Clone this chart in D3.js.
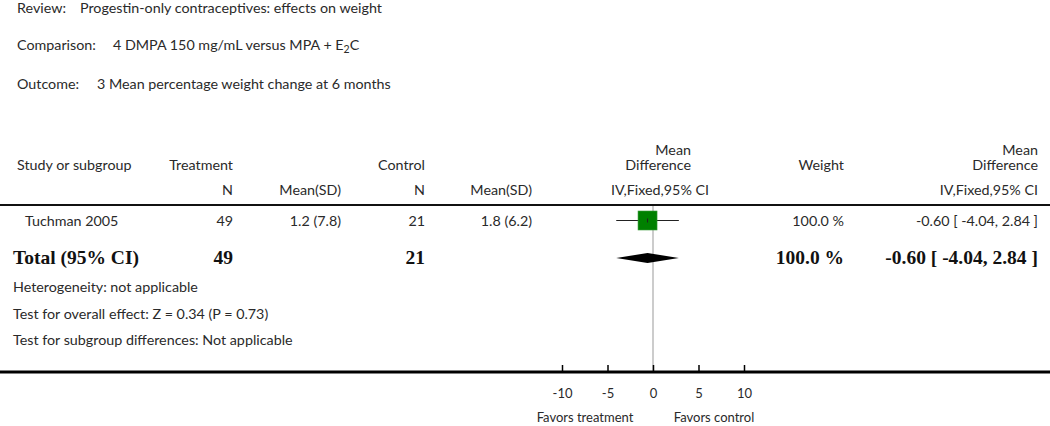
<!DOCTYPE html>
<html><head><meta charset="utf-8">
<script src="https://cdn.jsdelivr.net/npm/d3@7"></script>
<style>
body{margin:0;background:#fff;}
svg{display:block;}
text{font-family:Lato,"Open Sans",sans-serif;fill:#2a2a2a;}
.b{font-family:"Liberation Serif","DejaVu Serif",serif;font-weight:bold;fill:#111;}
</style></head><body>
<svg id="c" width="1050" height="426"></svg>
<script>
// ---- data ----
const reviewTitle = "Progestin-only contraceptives: effects on weight";
const comparisonTitle = "4 DMPA 150 mg/mL versus MPA + E";
const outcomeTitle = "3 Mean percentage weight change at 6 months";
const studies = ["Tuchman 2005"];
const treatN = [49];
const treatMeanSD = ["1.2 (7.8)"];
const ctrlN = [21];
const ctrlMeanSD = ["1.8 (6.2)"];
const md = [-0.60];
const ciLow = [-4.04];
const ciHigh = [2.84];
const weights = [100.0];
const totalTreatN = 49, totalCtrlN = 21;
const totalMD = -0.60, totalLow = -4.04, totalHigh = 2.84, totalWeight = 100.0;
const footnotes = ["Heterogeneity: not applicable",
  "Test for overall effect: Z = 0.34 (P = 0.73)",
  "Test for subgroup differences: Not applicable"];
const axisTicks = [-10, -5, 0, 5, 10];
const favorsLeft = "Favors treatment", favorsRight = "Favors control";

const svg = d3.select("#c");
const x = d3.scaleLinear().domain([-10, 10]).range([562, 744]);
const fs = 14.3;
const hy = s => s.replace(/\u2212/g, "-");
const fmt = v => hy(d3.format(".2f")(v));

function t(xp, yp, s, anchor, cls, size){
  const e = svg.append("text").attr("x", xp).attr("y", yp).attr("text-anchor", anchor || "start")
    .style("font-size", (size || fs) + "px").text(s);
  if (cls) e.attr("class", cls);
  return e;
}

// header
t(17, 13, "Review:"); t(80, 13, reviewTitle);
t(17, 50, "Comparison:");
const c2 = t(113, 50, comparisonTitle);
c2.append("tspan").attr("dy", 3).style("font-size", "10.5px").text("2");
c2.append("tspan").attr("dy", -3).text("C");
t(17, 89, "Outcome:"); t(97, 89, outcomeTitle);

// column headers
t(17, 170, "Study or subgroup");
t(233, 170, "Treatment", "end");
t(425, 170, "Control", "end");
t(233, 195, "N", "end");
t(341, 195, "Mean(SD)", "end");
t(425, 195, "N", "end");
t(532, 195, "Mean(SD)", "end");
t(691, 155, "Mean", "end");
t(691, 170, "Difference", "end");
t(660, 195, "IV,Fixed,95% CI", "middle");
t(844, 170, "Weight", "end");
t(1038, 155, "Mean", "end");
t(1038, 170, "Difference", "end");
t(1038, 195, "IV,Fixed,95% CI", "end");

// header rule
svg.append("rect").attr("x", 0).attr("y", 204).attr("width", 1050).attr("height", 2).attr("fill", "#111");

// zero line
svg.append("line").attr("x1", x(0)).attr("x2", x(0)).attr("y1", 206).attr("y2", 371)
  .attr("stroke", "#999").attr("stroke-width", 1);

// study rows
const rowY = [220.5];
studies.forEach((s, i) => {
  const y = rowY[i];
  t(25, y + 5, s);
  t(233, y + 5, treatN[i], "end");
  t(341, y + 5, treatMeanSD[i], "end");
  t(425, y + 5, ctrlN[i], "end");
  t(532, y + 5, ctrlMeanSD[i], "end");
  t(844, y + 5, d3.format(".1f")(weights[i]) + " %", "end");
  t(1038, y + 5, `${fmt(md[i])} [ ${fmt(ciLow[i])}, ${fmt(ciHigh[i])} ]`, "end");
  svg.append("line").attr("x1", x(ciLow[i])).attr("x2", x(ciHigh[i])).attr("y1", y).attr("y2", y)
    .attr("stroke", "#222").attr("stroke-width", 1);
  const size = 19 * Math.sqrt(weights[i] / 100);
  svg.append("rect").attr("x", x(md[i]) - size / 2).attr("y", y - size / 2)
    .attr("width", size).attr("height", size).attr("fill", "#008000").attr("stroke", "#3a9a3a").attr("stroke-width", 0.6);
  svg.append("line").attr("x1", x(md[i])).attr("x2", x(md[i])).attr("y1", y - 2).attr("y2", y + 2)
    .attr("stroke", "#222").attr("stroke-width", 1);
});

// total row
const ty = 258;
const bs = 19.5;
t(13, ty + 6, "Total (95% CI)", "start", "b", bs);
t(233, ty + 6, totalTreatN, "end", "b", bs);
t(425, ty + 6, totalCtrlN, "end", "b", bs);
t(844, ty + 6, d3.format(".1f")(totalWeight) + " %", "end", "b", bs);
t(1038, ty + 6, `${fmt(totalMD)} [ ${fmt(totalLow)}, ${fmt(totalHigh)} ]`, "end", "b", bs);
svg.append("path").attr("d",
  `M${x(totalLow)},${ty} L${x(totalMD)},${ty - 5} L${x(totalHigh)},${ty} L${x(totalMD)},${ty + 5} Z`)
  .attr("fill", "#000");

// footnotes
footnotes.forEach((f, i) => t(13, 292 + i * 26.5, f));

// axis
svg.append("rect").attr("x", 0).attr("y", 370.5).attr("width", 1050).attr("height", 3).attr("fill", "#000");
const ax = svg.append("g").attr("transform", "translate(0,371)")
  .call(d3.axisBottom(x).tickValues(axisTicks).tickSize(-6).tickPadding(18).tickFormat(d => hy(d3.format("d")(d))));
ax.select(".domain").remove();
ax.selectAll(".tick line").attr("stroke", "#000").attr("stroke-width", 1.5);
ax.selectAll(".tick text").style("font-size", "13px").style("font-family", "Lato,sans-serif").attr("fill", "#2a2a2a");
t(585, 422, favorsLeft, "middle", null, 13);
t(714, 422, favorsRight, "middle", null, 13);
</script>
</body></html>
